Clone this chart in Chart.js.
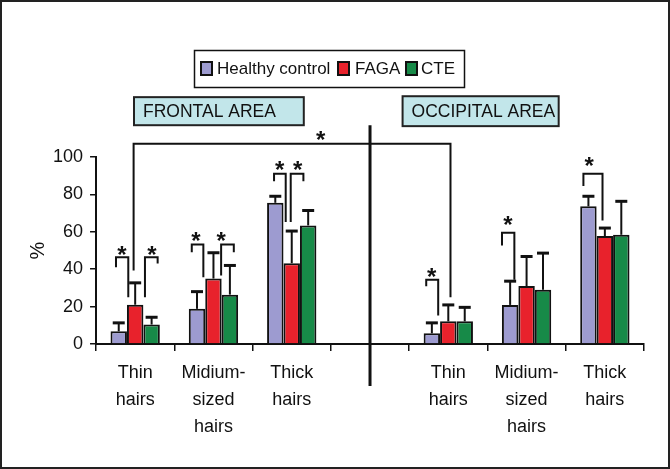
<!DOCTYPE html>
<html>
<head>
<meta charset="utf-8">
<script src="https://cdn.jsdelivr.net/npm/chart.js@4.4.1/dist/chart.umd.min.js"></script>
<style>
  html, body { margin: 0; padding: 0; background: #fff; }
  #wrap { width: 670px; height: 469px; }
</style>
</head>
<body>
<div id="wrap"><canvas id="hairChart" width="670" height="469"></canvas></div>
<script>
// Categories (the empty one leaves the gap between the two areas)
const categories = [
    ['Thin', 'hairs'], ['Midium-', 'sized', 'hairs'], ['Thick', 'hairs'], '',
    ['Thin', 'hairs'], ['Midium-', 'sized', 'hairs'], ['Thick', 'hairs']
];
const seriesNames = ['Healthy control', 'FAGA', 'CTE'];

// Mean values (%)
const healthyMean = [6.8, 18.8, 75.5, null, 5.7, 20.9, 73.6];
const fagaMean    = [21, 35, 43.2, null, 12.1, 31, 57.7];
const cteMean     = [10.4, 26.4, 63.4, null, 12.1, 29, 58.4];

// Upper error bar lengths (SD)
const healthySd = [4.5, 9.2, 3.5, null, 5.6, 12.7, 5.4];
const fagaSd    = [11.7, 13.8, 17.2, null, 8.8, 15.8, 4.3];
const cteSd     = [3.9, 15.6, 8.0, null, 7.5, 19.6, 17.9];

const yTicks = [0, 20, 40, 60, 80, 100];

// Significance brackets: category, leg offsets (in categories), top, left/right leg ends, star
const brackets = [
    { cat: 0, x1: -0.245, x2: -0.088, top: 46.4, y1: 41, y2: 25, sx: -0.168, sy: 50.5 },
    { cat: 0, x1: 0.125, x2: 0.287, top: 46.4, y1: 25, y2: 43, sx: 0.214, sy: 50.5 },
    { cat: 1, x1: -0.277, x2: -0.129, top: 53.2, y1: 49, y2: 35.7, sx: -0.225, sy: 57.5 },
    { cat: 1, x1: 0.098, x2: 0.26, top: 53.2, y1: 36.6, y2: 49, sx: 0.1, sy: 57.5 },
    { cat: 2, x1: -0.226, x2: -0.077, top: 91, y1: 87, y2: 65.2, sx: -0.153, sy: 95.5 },
    { cat: 2, x1: -0.013, x2: 0.149, top: 91, y1: 65.2, y2: 87, sx: 0.077, sy: 95.5 },
    { cat: 4, x1: -0.282, x2: -0.129, top: 34.3, y1: 30.9, y2: 15.2, sx: -0.214, sy: 38.4 },
    { cat: 5, x1: -0.314, x2: -0.156, top: 59.5, y1: 52.7, y2: 34.3, sx: -0.237, sy: 66.5 },
    { cat: 6, x1: -0.274, x2: -0.03, top: 91, y1: 84.5, y2: 66, sx: -0.2, sy: 98 },
    // frontal thin vs occipital thin
    { cat: 0, x1: -0.02, x2: 4.028, top: 107.1, y1: 39.3, y2: 25, sx: 2.37, sy: 111.6 }
];

// Area labels (category span, value span)
const areas = [
    { text: 'FRONTAL AREA', from: -0.015, to: 2.154, top: 132, bottom: 117 },
    { text: 'OCCIPITAL AREA', from: 3.416, to: 5.41, top: 132.5, bottom: 116.5 }
];
const dividerCat = 3;
const dividerRange = [-22.5, 117];

const FONT = "'Liberation Sans', Arial, sans-serif";

const annotationPlugin = {
    id: 'annotations',
    afterDatasetsDraw(chart) {
        const ctx = chart.ctx;
        const x = chart.scales.x;
        const y = chart.scales.y;
        const sds = [healthySd, fagaSd, cteSd];

        ctx.save();
        ctx.strokeStyle = '#111';
        ctx.lineCap = 'butt';

        // error bars
        chart.data.datasets.forEach(function(ds, d) {
            const meta = chart.getDatasetMeta(d);
            meta.data.forEach(function(bar, i) {
                if (ds.data[i] == null) return;
                const yTop = y.getPixelForValue(ds.data[i] + sds[d][i]);
                ctx.lineWidth = 2;
                ctx.beginPath();
                ctx.moveTo(bar.x, bar.y);
                ctx.lineTo(bar.x, yTop);
                ctx.stroke();
                ctx.lineWidth = 3;
                ctx.beginPath();
                ctx.moveTo(bar.x - 6, yTop);
                ctx.lineTo(bar.x + 6, yTop);
                ctx.stroke();
            });
        });

        // brackets and stars
        ctx.lineWidth = 2;
        ctx.fillStyle = '#111';
        ctx.font = 'bold 24px ' + FONT;
        ctx.textAlign = 'center';
        ctx.textBaseline = 'alphabetic';
        brackets.forEach(function(b) {
            const xa = x.getPixelForValue(b.cat + b.x1);
            const xb = x.getPixelForValue(b.cat + b.x2);
            const yt = y.getPixelForValue(b.top);
            ctx.beginPath();
            ctx.moveTo(xa, y.getPixelForValue(b.y1));
            ctx.lineTo(xa, yt);
            ctx.lineTo(xb, yt);
            ctx.lineTo(xb, y.getPixelForValue(b.y2));
            ctx.stroke();
            ctx.fillText('*', x.getPixelForValue(b.cat + b.sx), y.getPixelForValue(b.sy) + 13);
        });

        // divider between areas
        ctx.lineWidth = 3;
        ctx.beginPath();
        ctx.moveTo(x.getPixelForValue(dividerCat), y.getPixelForValue(dividerRange[0]));
        ctx.lineTo(x.getPixelForValue(dividerCat), y.getPixelForValue(dividerRange[1]));
        ctx.stroke();

        // area label boxes
        ctx.font = '17.5px ' + FONT;
        ctx.textAlign = 'left';
        ctx.textBaseline = 'middle';
        areas.forEach(function(a) {
            const l = x.getPixelForValue(a.from), r = x.getPixelForValue(a.to);
            const t = y.getPixelForValue(a.top), btm = y.getPixelForValue(a.bottom);
            ctx.fillStyle = '#c2e6ea';
            ctx.fillRect(l, t, r - l, btm - t);
            ctx.lineWidth = 2;
            ctx.strokeStyle = '#222';
            ctx.strokeRect(l, t, r - l, btm - t);
            ctx.fillStyle = '#111';
            ctx.fillText(a.text, l + 9, (t + btm) / 2 + 1);
        });

        // legend with a frame
        const items = [[201, 217], [338, 355], [406, 421]];
        ctx.font = '17px ' + FONT;
        ctx.lineWidth = 1.5;
        ctx.strokeStyle = '#111';
        ctx.strokeRect(194.5, 50.5, 270, 37);
        chart.data.datasets.forEach(function(ds, d) {
            ctx.fillStyle = ds.backgroundColor;
            ctx.fillRect(items[d][0], 62, 11, 13);
            ctx.lineWidth = 2;
            ctx.strokeRect(items[d][0], 62, 11, 13);
            ctx.fillStyle = '#111';
            ctx.fillText(ds.label, items[d][1], 69);
        });

        // outer frame
        ctx.lineWidth = 2;
        ctx.strokeStyle = '#222';
        ctx.strokeRect(1, 1, chart.width - 2, chart.height - 2);
        ctx.restore();
    }
};

document.addEventListener('DOMContentLoaded', function() {
    const ctx = document.getElementById('hairChart').getContext('2d');
    const colors = ['#9d9bd0', '#e8222c', '#178a48'];
    const means = [healthyMean, fagaMean, cteMean];

    new Chart(ctx, {
        type: 'bar',
        data: {
            labels: categories,
            datasets: seriesNames.map(function(name, i) {
                return {
                    label: name,
                    data: means[i],
                    backgroundColor: colors[i],
                    borderColor: '#111',
                    borderWidth: 2,
                    borderSkipped: 'bottom',
                    categoryPercentage: 0.63,
                    barPercentage: 1.0
                };
            })
        },
        options: {
            responsive: false,
            animation: false,
            layout: { padding: { top: 157, left: 14, right: 26, bottom: 19 } },
            plugins: {
                legend: { display: false },
                tooltip: { enabled: false }
            },
            scales: {
                x: {
                    grid: { drawOnChartArea: false, offset: true, color: '#111', lineWidth: 1.5, tickLength: 7 },
                    border: { color: '#111', width: 2 },
                    ticks: {
                        color: '#111',
                        font: { family: FONT, size: 18, lineHeight: 1.5 },
                        maxRotation: 0,
                        autoSkip: false,
                        padding: 9
                    }
                },
                y: {
                    min: 0,
                    max: 100,
                    afterBuildTicks: function(scale) {
                        scale.ticks = yTicks.map(function(v) { return { value: v }; });
                    },
                    grid: { drawOnChartArea: false, color: '#111', lineWidth: 1.5, tickLength: 6 },
                    border: { color: '#111', width: 2 },
                    ticks: { color: '#111', font: { family: FONT, size: 18 }, padding: 7 },
                    title: { display: true, text: '%', color: '#111', font: { family: FONT, size: 20 }, padding: { top: 12, bottom: -4 } }
                }
            }
        },
        plugins: [annotationPlugin]
    });
});
</script>
</body>
</html>
